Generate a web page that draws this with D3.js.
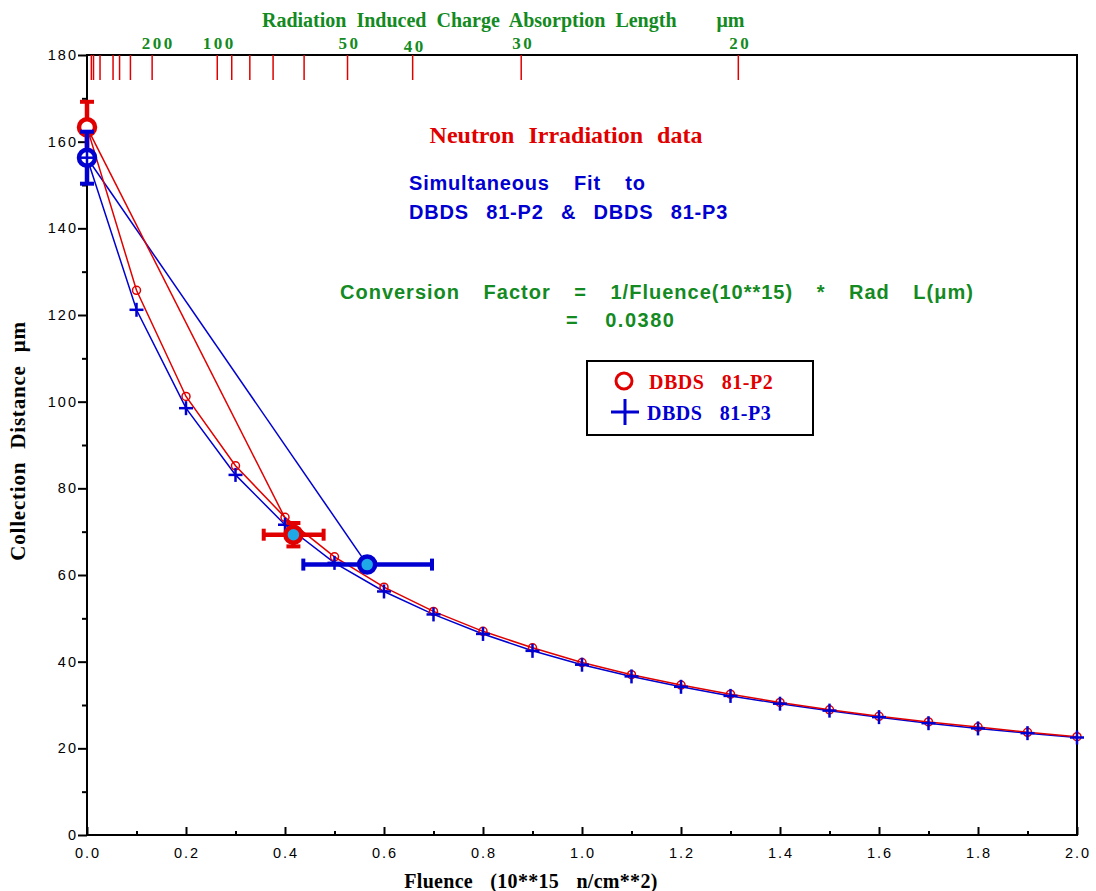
<!DOCTYPE html>
<html><head><meta charset="utf-8">
<script src="https://cdn.jsdelivr.net/npm/d3@7"></script>
<style>
body{margin:0;background:#fff;}
svg{display:block;}
</style></head>
<body>
<svg id="chart" width="1096" height="891"></svg>
<script>
// ---- data ----
const fitFluence = [0,0.1,0.2,0.3,0.4,0.5,0.6,0.7,0.8,0.9,1.0,1.1,1.2,1.3,1.4,1.5,1.6,1.7,1.8,1.9,2.0];
const fitP2 = [163.3,125.7,101.2,85.2,73.3,64.2,57.2,51.6,47.0,43.2,39.8,37.0,34.6,32.5,30.6,28.9,27.4,26.1,24.9,23.7,22.7];
const fitP3 = [156.3,121.2,98.5,83.1,71.6,62.8,56.2,50.9,46.4,42.5,39.3,36.6,34.2,32.1,30.3,28.7,27.2,25.8,24.6,23.5,22.5];
const measP2Fluence = [0, 0.417];
const measP2Dist = [163.3, 69.3];
const measP2FluenceLo = [0, 0.357];
const measP2FluenceHi = [0, 0.478];
const measP2DistErr = [5.9, 2.7];
const measP3Fluence = [0, 0.566];
const measP3Dist = [156.3, 62.4];
const measP3FluenceLo = [0, 0.437];
const measP3FluenceHi = [0, 0.697];
const measP3DistErr = [6.0, 0];
const conversionFactor = 0.0380;
const topTickLengths = [3000,2000,1000,500,400,300,200,100,90,80,70,60,50,40,30,20];
const topTickLabels = [200,100,50,40,30,20];
const xTicks = [0,0.2,0.4,0.6,0.8,1.0,1.2,1.4,1.6,1.8,2.0];
const yTicks = [0,20,40,60,80,100,120,140,160,180];

// ---- colours ----
const RED = "#e00000", BLUE = "#0000d0", GREEN = "#138a22", CYAN = "#1ea8e8";
const serif = "'Liberation Serif','Times New Roman',serif";
const sans = "'Liberation Sans',Arial,sans-serif";

const svg = d3.select("#chart");
const L = 87, R = 1077, T = 55, B = 835;
const x = d3.scaleLinear().domain([0,2]).range([L,R]);
const y = d3.scaleLinear().domain([0,180]).range([B,T]);
const lenToX = len => x(1/(conversionFactor*len));

// frame
svg.append("rect").attr("x",L).attr("y",T).attr("width",R-L).attr("height",B-T)
  .attr("fill","none").attr("stroke","#000").attr("stroke-width",2);

// x axis (ticks inward)
const xAxis = d3.axisBottom(x).tickValues(d3.range(0,2.001,0.1)).tickSizeInner(0).tickSizeOuter(0).tickFormat("");
const gx = svg.append("g").attr("transform",`translate(0,${B})`).call(xAxis);
gx.select(".domain").remove();
gx.selectAll(".tick line").attr("y2",(d,i)=> i%2===0 ? -8 : -4).attr("stroke","#000").attr("stroke-width",2);
svg.append("g").selectAll("text").data(xTicks).join("text")
  .attr("x",d=>x(d)+1).attr("y",B+23).attr("text-anchor","middle")
  .style("font-family",sans).style("font-size","14.5px").style("letter-spacing","2px")
  .text(d=>d3.format(".1f")(d));

// y axis (ticks outward)
const yAxis = d3.axisLeft(y).tickValues(d3.range(0,180.1,10)).tickSizeInner(0).tickSizeOuter(0).tickFormat("");
const gy = svg.append("g").attr("transform",`translate(${L},0)`).call(yAxis);
gy.select(".domain").remove();
gy.selectAll(".tick line").attr("x2",(d,i)=> i%2===0 ? -9 : -5).attr("stroke","#000").attr("stroke-width",2);
svg.append("g").selectAll("text").data(yTicks).join("text")
  .attr("x",L-9).attr("y",d=>y(d)+5).attr("text-anchor","end")
  .style("font-family",sans).style("font-size","14.5px").style("letter-spacing","2px")
  .text(d=>d);

// top red ticks
svg.append("g").selectAll("line").data(topTickLengths).join("line")
  .attr("x1",d=>lenToX(d)).attr("x2",d=>lenToX(d)).attr("y1",T).attr("y2",T+25)
  .attr("stroke",RED).attr("stroke-width",1.5);
svg.append("g").selectAll("text").data(topTickLabels).join("text")
  .attr("x",d=>lenToX(d)+(d===200?6:2)).attr("y",d=>d===40?52:49).attr("text-anchor","middle")
  .style("font-family",serif).style("font-weight","bold")
  .style("font-size","17px").style("letter-spacing","2.5px").attr("fill",GREEN)
  .text(d=>d);
svg.append("text").attr("x",262).attr("y",27)
  .style("font-family",serif).style("font-weight","bold")
  .style("font-size","20px").style("word-spacing","5px").attr("fill",GREEN)
  .text("Radiation Induced Charge Absorption Length \u00a0\u00a0 \u03bcm");

// lines
const line = d3.line().x(d=>x(d[0])).y(d=>y(d[1]));
const fitP2Pts = fitFluence.map((f,i)=>[f,fitP2[i]]);
const fitP3Pts = fitFluence.map((f,i)=>[f,fitP3[i]]);
const mP2 = measP2Fluence.map((f,i)=>[f,measP2Dist[i]]);
const mP3 = measP3Fluence.map((f,i)=>[f,measP3Dist[i]]);
svg.append("path").attr("d",line(mP3)).attr("fill","none").attr("stroke",BLUE).attr("stroke-width",1.5);
svg.append("path").attr("d",line(mP2)).attr("fill","none").attr("stroke",RED).attr("stroke-width",1.5);
svg.append("path").attr("d",line(fitP3Pts)).attr("fill","none").attr("stroke",BLUE).attr("stroke-width",1.5);
svg.append("path").attr("d",line(fitP2Pts)).attr("fill","none").attr("stroke",RED).attr("stroke-width",1.5);

// fit markers
svg.append("g").selectAll("circle").data(fitP2Pts.slice(1)).join("circle")
  .attr("cx",d=>x(d[0])).attr("cy",d=>y(d[1])).attr("r",4)
  .attr("fill","none").attr("stroke",RED).attr("stroke-width",1.5);
const plus = svg.append("g").selectAll("g").data(fitP3Pts.slice(1)).join("g")
  .attr("transform",d=>`translate(${x(d[0])},${y(d[1])})`);
plus.append("line").attr("x1",-7).attr("x2",7).attr("stroke",BLUE).attr("stroke-width",2.5);
plus.append("line").attr("y1",-7).attr("y2",7).attr("stroke",BLUE).attr("stroke-width",2.5);

// measured points with error bars
function drawMeas(fl, d, lo, hi, derr, col, fills){
  const g = svg.append("g");
  fl.forEach((f,i)=>{
    const cx = x(f), cy = y(d[i]);
    if (hi[i] > lo[i]) {
      g.append("line").attr("x1",x(lo[i])).attr("x2",x(hi[i])).attr("y1",cy).attr("y2",cy).attr("stroke",col).attr("stroke-width",4.5);
      [lo[i],hi[i]].forEach(v=>g.append("line").attr("x1",x(v)).attr("x2",x(v)).attr("y1",cy-6).attr("y2",cy+6).attr("stroke",col).attr("stroke-width",4));
    }
    if (derr[i] > 0) {
      g.append("line").attr("x1",cx).attr("x2",cx).attr("y1",y(d[i]-derr[i])).attr("y2",y(d[i]+derr[i])).attr("stroke",col).attr("stroke-width",4.5);
      [d[i]-derr[i], d[i]+derr[i]].forEach(v=>g.append("line").attr("x1",cx-7).attr("x2",cx+7).attr("y1",y(v)).attr("y2",y(v)).attr("stroke",col).attr("stroke-width",4));
    }
    g.append("circle").attr("cx",cx).attr("cy",cy).attr("r",8).attr("fill",fills[i]).attr("stroke",col).attr("stroke-width",4.5);
  });
}
drawMeas(measP2Fluence, measP2Dist, measP2FluenceLo, measP2FluenceHi, measP2DistErr, RED, ["#fff",CYAN]);
drawMeas(measP3Fluence, measP3Dist, measP3FluenceLo, measP3FluenceHi, measP3DistErr, BLUE, ["#fff",CYAN]);
// fit marker at zero drawn over measured circle
const p0 = svg.append("g").attr("transform",`translate(${x(fitP3Pts[0][0])},${y(fitP3Pts[0][1])})`);
p0.append("line").attr("x1",-7).attr("x2",7).attr("stroke",BLUE).attr("stroke-width",2.5);
p0.append("line").attr("y1",-7).attr("y2",7).attr("stroke",BLUE).attr("stroke-width",2.5);

// annotations
svg.append("text").attr("x",566).attr("y",143).attr("text-anchor","middle")
  .style("font-family",serif).style("font-weight","bold")
  .style("font-size","24px").style("word-spacing","8px").attr("fill",RED).text("Neutron Irradiation data");
svg.append("text").attr("x",409).attr("y",190).style("font-family",sans).style("font-weight","bold")
  .style("font-size","20px").style("word-spacing","18px").style("letter-spacing","0.8px").attr("fill",BLUE).text("Simultaneous Fit to");
svg.append("text").attr("x",409).attr("y",219).style("font-family",sans).style("font-weight","bold")
  .style("font-size","20px").style("word-spacing","11px").style("letter-spacing","0.8px").attr("fill",BLUE).text("DBDS 81-P2 & DBDS 81-P3");
svg.append("text").attr("x",340).attr("y",299).style("font-family",sans).style("font-weight","bold")
  .style("font-size","20px").style("word-spacing","17px").style("letter-spacing","1px").attr("fill",GREEN)
  .text("Conversion Factor = 1/Fluence(10**15) * Rad L(\u03bcm)");
svg.append("text").attr("x",566).attr("y",327).style("font-family",sans).style("font-weight","bold")
  .style("font-size","20px").style("word-spacing","19px").style("letter-spacing","1.5px").attr("fill",GREEN)
  .text("= " + conversionFactor.toFixed(4));

// legend
svg.append("rect").attr("x",587).attr("y",361).attr("width",226).attr("height",74)
  .attr("fill","#fff").attr("stroke","#000").attr("stroke-width",2);
svg.append("circle").attr("cx",624).attr("cy",381).attr("r",8).attr("fill","none").attr("stroke",RED).attr("stroke-width",3);
const lp = svg.append("g").attr("transform","translate(625,412)");
lp.append("line").attr("x1",-14).attr("x2",14).attr("stroke",BLUE).attr("stroke-width",3);
lp.append("line").attr("y1",-13).attr("y2",13).attr("stroke",BLUE).attr("stroke-width",3);
svg.append("text").attr("x",649).attr("y",389).style("font-family",serif).style("font-weight","bold")
  .style("font-size","20px").style("word-spacing","12px").style("letter-spacing","0.5px").attr("fill",RED).text("DBDS 81-P2");
svg.append("text").attr("x",647).attr("y",420).style("font-family",serif).style("font-weight","bold")
  .style("font-size","20px").style("word-spacing","12px").style("letter-spacing","0.5px").attr("fill",BLUE).text("DBDS 81-P3");

// axis titles
svg.append("text").attr("x",531).attr("y",888).attr("text-anchor","middle")
  .style("font-family",serif).style("font-weight","bold").style("font-size","20px").style("word-spacing","12px").style("letter-spacing","0.3px")
  .text("Fluence (10**15 n/cm**2)");
svg.append("text").attr("transform","translate(25,441) rotate(-90)").attr("text-anchor","middle")
  .style("font-family",serif).style("font-weight","bold").style("font-size","21px").style("word-spacing","7px").style("letter-spacing","0.8px")
  .text("Collection Distance \u03bcm");
</script>
</body></html>
